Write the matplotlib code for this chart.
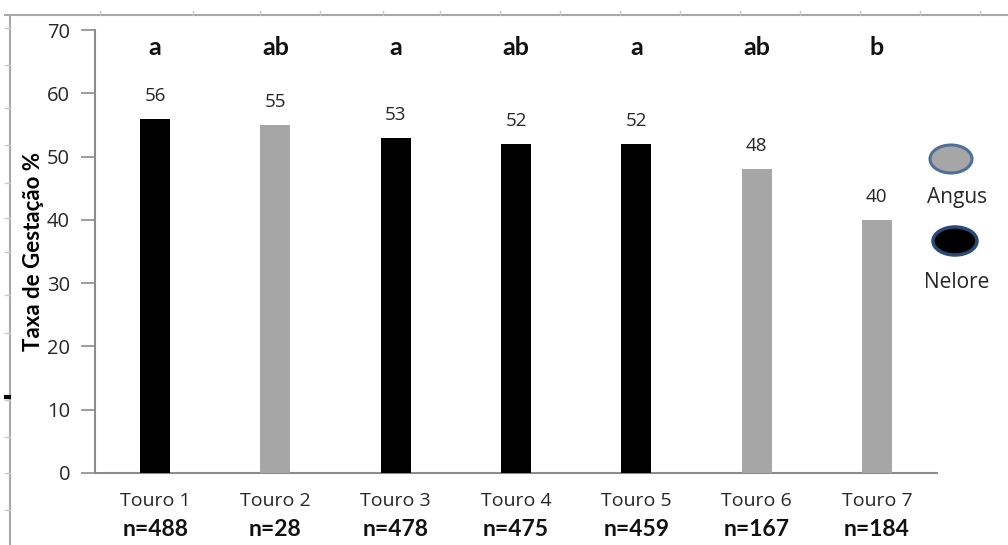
import matplotlib
matplotlib.use("Agg")
import matplotlib.pyplot as plt
from matplotlib.patches import Ellipse
from matplotlib.lines import Line2D

# Data
bulls = ["Touro 1", "Touro 2", "Touro 3", "Touro 4", "Touro 5", "Touro 6", "Touro 7"]
n_counts = [488, 28, 478, 475, 459, 167, 184]
rates = [56, 55, 53, 52, 52, 48, 40]
breeds = ["Nelore", "Angus", "Nelore", "Nelore", "Nelore", "Angus", "Angus"]
letters = ["a", "ab", "a", "ab", "a", "ab", "b"]
y_ticks = [0, 10, 20, 30, 40, 50, 60, 70]

breed_colors = {"Nelore": "#000000", "Angus": "#a6a6a6"}
axis_grey = "#8c8c8c"
text_col = "#262626"

W, H = 1008, 545
fig = plt.figure(figsize=(W / 100, H / 100), dpi=100)
fig.patch.set_facecolor("white")

ax = fig.add_axes([95 / W, 1 - 473 / H, (937 - 95) / W, (473 - 30) / H])

x = list(range(len(bulls)))
ax.bar(x, rates, width=0.25, color=[breed_colors[b] for b in breeds], zorder=3)

ax.set_xlim(-0.5, len(bulls) - 0.5)
ax.set_ylim(0, 70)
ax.set_yticks(y_ticks)
ax.set_yticklabels([str(v) for v in y_ticks], fontsize=14.5, family="Open Sans",
                   color=text_col)
ax.tick_params(axis="y", direction="out", length=10, width=1.2, color=axis_grey,
               pad=8)
ax.set_xticks(x)
ax.set_xticklabels(bulls, fontsize=14, family="Open Sans", color=text_col)
ax.tick_params(axis="x", length=0, pad=14)

for side in ("top", "right"):
    ax.spines[side].set_visible(False)
for side in ("left", "bottom"):
    ax.spines[side].set_color(axis_grey)
    ax.spines[side].set_linewidth(1.5)

# Value labels above bars and significance letters
for xi, r, let, n in zip(x, rates, letters, n_counts):
    ax.text(xi, r + 2.2, f"{r}", ha="center", va="bottom", fontsize=13.5,
            family="Open Sans", color=text_col)
    ax.text(xi, 67.3, let, ha="center", va="center", fontsize=18,
            family="Lato", fontweight="bold", color="#111111")
    ax.text(xi, -0.127, f"n={n}", transform=ax.get_xaxis_transform(),
            ha="center", va="center", fontsize=16.5, family="Lato",
            fontweight="bold", color="#111111")

ax.set_ylabel("Taxa de Gestação %", fontsize=16, family="Lato",
              fontweight="bold")
ax.yaxis.set_label_coords(-0.061, 0.50)

# Breed key on the right
fig.add_artist(Ellipse((951 / W, 1 - 159 / H), 42 / W, 28 / H,
                       facecolor="#a6a6a6", edgecolor="#4f6f9a", linewidth=2.2,
                       transform=fig.transFigure))
fig.text(957 / W, 1 - 197 / H, "Angus", ha="center", va="center",
         fontsize=15, family="Open Sans", color=text_col)
fig.add_artist(Ellipse((955 / W, 1 - 241 / H), 44 / W, 28 / H,
                       facecolor="#000000", edgecolor="#2b4a73", linewidth=2.5,
                       transform=fig.transFigure))
fig.text(957 / W, 1 - 283 / H, "Nelore", ha="center", va="center",
         fontsize=15, family="Open Sans", color=text_col)

# Outer page frame with small ruler marks
frame_grey = "#a8a8a8"
fig.add_artist(Line2D([5 / W, 1], [1 - 15 / H, 1 - 15 / H], color=frame_grey,
                      linewidth=1.5, transform=fig.transFigure))
fig.add_artist(Line2D([10 / W, 10 / W], [0, 1 - 15 / H], color=frame_grey,
                      linewidth=1.5, transform=fig.transFigure))
for px in [100, 193, 260, 320, 383, 440, 500, 560, 620, 680, 740, 800, 860, 920, 980]:
    fig.add_artist(Line2D([px / W, px / W], [1 - 15 / H, 1 - 11 / H],
                          color="#c8c8c8", linewidth=1, transform=fig.transFigure))
for py in [28, 65, 108, 145, 183, 218, 252, 295, 333, 400, 437, 473, 510]:
    fig.add_artist(Line2D([5 / W, 10 / W], [1 - py / H, 1 - py / H],
                          color="#c8c8c8", linewidth=1, transform=fig.transFigure))
fig.add_artist(Line2D([6 / W, 9 / W], [1 - 397 / H, 1 - 397 / H],
                      color="#000000", linewidth=3, transform=fig.transFigure))

fig.savefig("out.png", dpi=100, facecolor="white")
